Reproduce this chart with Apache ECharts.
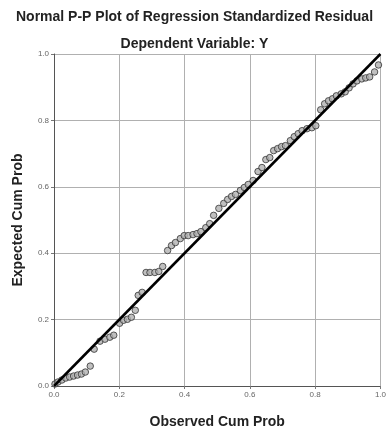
<!DOCTYPE html>
<html>
<head>
<meta charset="utf-8">
<script src="https://cdn.jsdelivr.net/npm/echarts@6/dist/echarts.min.js"></script>
<style>html,body{margin:0;padding:0;background:#fff}#c{width:389px;height:434px}</style>
</head>
<body>
<div id="c"></div>
<script>
const titleText = "Normal P-P Plot of Regression Standardized Residual";
const subtitleText = "Dependent Variable: Y";
const xName = "Observed Cum Prob";
const yName = "Expected Cum Prob";
const tickValues = [0, 0.2, 0.4, 0.6, 0.8, 1.0];
const observed = [0.003,0.012,0.024,0.036,0.048,0.060,0.072,0.084,0.096,0.111,0.123,0.141,0.156,0.171,0.183,0.201,0.213,0.225,0.237,0.249,0.258,0.270,0.282,0.294,0.309,0.321,0.333,0.348,0.360,0.372,0.387,0.399,0.411,0.426,0.438,0.450,0.465,0.477,0.489,0.505,0.520,0.532,0.544,0.556,0.571,0.583,0.595,0.610,0.625,0.637,0.649,0.661,0.673,0.685,0.697,0.709,0.724,0.736,0.748,0.760,0.775,0.790,0.802,0.817,0.829,0.841,0.853,0.865,0.880,0.892,0.904,0.916,0.928,0.943,0.955,0.967,0.982,0.994];
const expected = [0.006,0.012,0.018,0.024,0.027,0.030,0.033,0.036,0.042,0.060,0.111,0.135,0.141,0.147,0.153,0.189,0.198,0.201,0.207,0.228,0.273,0.282,0.342,0.342,0.342,0.345,0.360,0.408,0.423,0.432,0.444,0.453,0.453,0.456,0.459,0.465,0.477,0.489,0.514,0.535,0.550,0.562,0.571,0.577,0.589,0.598,0.607,0.619,0.646,0.658,0.682,0.688,0.709,0.715,0.721,0.724,0.739,0.751,0.760,0.769,0.775,0.778,0.784,0.832,0.850,0.859,0.865,0.874,0.880,0.886,0.898,0.910,0.919,0.925,0.928,0.931,0.946,0.967];
const refLineX = [0, 1];
const refLineY = [0, 1];

const pts = observed.map((x, i) => [x, expected[i]]);
const refLine = refLineX.map((x, i) => [x, refLineY[i]]);
const font = "'Liberation Sans', Arial, sans-serif";

const chart = echarts.init(document.getElementById('c'), null, {renderer: 'canvas'});
chart.setOption({
  animation: false,
  backgroundColor: '#fff',
  title: [
    {text: titleText, left: 'center', top: 5, textStyle: {fontFamily: font, fontSize: 14, fontWeight: 'bold', color: '#222'}},
    {text: subtitleText, left: 'center', top: 32, textStyle: {fontFamily: font, fontSize: 14, fontWeight: 'bold', color: '#222'}}
  ],
  grid: {left: 54, right: 2, top: 54, bottom: 47, containLabel: false},
  xAxis: {
    type: 'value', min: 0, max: 1, interval: 0.2,
    name: xName, nameLocation: 'middle', nameGap: 29,
    nameTextStyle: {fontFamily: font, fontSize: 14, fontWeight: 'bold', color: '#222'},
    axisLine: {show: true, lineStyle: {color: '#555', width: 1}},
    axisTick: {show: true, length: 3, lineStyle: {color: '#777'}},
    axisLabel: {fontFamily: font, fontSize: 8, color: '#666', margin: 5, formatter: v => v.toFixed(1)},
    splitLine: {show: true, lineStyle: {color: '#b0b0b0', width: 1}}
  },
  yAxis: {
    type: 'value', min: 0, max: 1, interval: 0.2,
    name: yName, nameLocation: 'middle', nameGap: 29,
    nameTextStyle: {fontFamily: font, fontSize: 14, fontWeight: 'bold', color: '#222'},
    axisLine: {show: true, lineStyle: {color: '#555', width: 1}},
    axisTick: {show: true, length: 3, lineStyle: {color: '#777'}},
    axisLabel: {fontFamily: font, fontSize: 8, color: '#666', margin: 5, formatter: v => v.toFixed(1)},
    splitLine: {show: true, lineStyle: {color: '#b0b0b0', width: 1}}
  },
  series: [
    {
      type: 'scatter', data: pts, symbol: 'circle', symbolSize: 6.5,
      itemStyle: {color: '#b0b0b0', borderColor: '#333', borderWidth: 1}, z: 2
    },
    {
      type: 'line', data: refLine, showSymbol: false, symbol: 'none',
      lineStyle: {color: '#000', width: 2.5}, z: 3, silent: true
    }
  ]
});
</script>
</body>
</html>
